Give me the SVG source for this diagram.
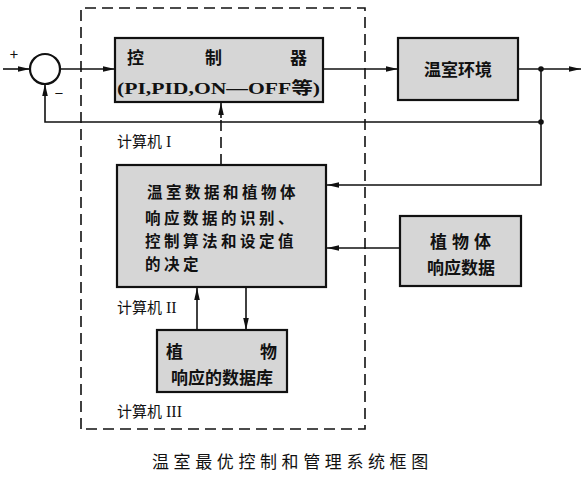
<svg xmlns="http://www.w3.org/2000/svg" width="587" height="482" viewBox="0 0 587 482">
<defs>
<marker id="ah" viewBox="0 0 12 8" refX="12" refY="4" markerWidth="12" markerHeight="8" markerUnits="userSpaceOnUse" orient="auto">
<path d="M0,1.2 L12,4 L0,6.8 Z" fill="#111"/>
</marker>
<style>
.box{fill:#d6d6d6;stroke:#111;stroke-width:2.2}
.ln{fill:none;stroke:#111;stroke-width:1.6}
.dash{fill:none;stroke:#111;stroke-width:1.6;stroke-dasharray:11 6}
.t{font-family:"Noto Sans CJK SC","Noto Sans",sans-serif;font-weight:700;font-size:17px;fill:#111}
.m{font-family:"Noto Sans CJK SC","Noto Sans",sans-serif;font-weight:700;font-size:15.5px;fill:#111;letter-spacing:3.5px}
.s{font-family:"Liberation Serif","Noto Sans CJK SC",serif;font-weight:700;font-size:17px;fill:#111}
.l{font-family:"Noto Sans CJK SC","Liberation Serif",sans-serif;font-size:15px;fill:#111}
.r{font-family:"Liberation Serif",serif;font-size:16px}
.cap{font-family:"Noto Sans CJK SC",sans-serif;font-size:17px;fill:#111;letter-spacing:4.6px}
</style>
</defs>
<rect width="587" height="482" fill="#fff"/>
<g id="computer-boundary">
<path class="dash" d="M81,429 V8 H365 V429 Z"/>
</g>
<g id="connectors">
<line class="ln" x1="3" y1="69" x2="30" y2="69" marker-end="url(#ah)"/>
<line class="ln" x1="60" y1="69" x2="115" y2="69" marker-end="url(#ah)"/>
<line class="ln" x1="323" y1="69" x2="398" y2="69" marker-end="url(#ah)"/>
<line class="ln" x1="518" y1="69" x2="581" y2="69" marker-end="url(#ah)"/>
<path class="ln" d="M541,69 V185 H327" marker-end="url(#ah)"/>
<path class="ln" d="M541,122 H45 V84" marker-end="url(#ah)"/>
<line class="ln" x1="400" y1="248" x2="327" y2="248" marker-end="url(#ah)"/>
<line class="dash" x1="221" y1="165" x2="221" y2="116" stroke-dasharray="8 5"/>
<line class="ln" x1="221" y1="118" x2="221" y2="103" marker-end="url(#ah)"/>
<line class="ln" x1="197" y1="330" x2="197" y2="288" marker-end="url(#ah)"/>
<line class="ln" x1="246" y1="288" x2="246" y2="330" marker-end="url(#ah)"/>
<circle cx="541" cy="69" r="2.8" fill="#111"/>
<circle cx="541" cy="122" r="2.8" fill="#111"/>
</g>
<g id="summing-junction">
<circle cx="45" cy="69" r="15" fill="#fff" stroke="#111" stroke-width="2.2"/>
<text x="14" y="60" class="l" text-anchor="middle">+</text>
<text x="59" y="99" class="l" text-anchor="middle">−</text>
</g>
<g id="controller">
<rect class="box" x="115" y="38" width="208" height="64"/>
<text x="127" y="64" class="t">控</text>
<text x="205" y="64" class="t">制</text>
<text x="290" y="64" class="t">器</text>
<text x="117" y="94" class="s" textLength="203" lengthAdjust="spacingAndGlyphs">(PI,PID,ON—OFF等)</text>
</g>
<g id="greenhouse-env">
<rect class="box" x="398" y="38" width="120" height="62"/>
<text x="458" y="76" class="t" text-anchor="middle">温室环境</text>
</g>
<g id="label-computer1">
<text x="117" y="147" class="l">计算机<tspan class="r" dx="4">I</tspan></text>
</g>
<g id="identification">
<rect class="box" x="117" y="165" width="209" height="122"/>
<text x="147" y="198" class="m">温室数据和植物体</text>
<text x="145" y="224" class="m">响应数据的识别、</text>
<text x="145" y="247" class="m">控制算法和设定值</text>
<text x="145" y="270" class="m">的决定</text>
</g>
<g id="plant-response">
<rect class="box" x="400" y="216" width="121" height="70"/>
<text x="463" y="248" class="t" text-anchor="middle" letter-spacing="5">植物体</text>
<text x="461" y="274" class="t" text-anchor="middle">响应数据</text>
</g>
<g id="label-computer2">
<text x="117" y="313" class="l">计算机<tspan class="r" dx="4">II</tspan></text>
</g>
<g id="database">
<rect class="box" x="157" y="330" width="130" height="62"/>
<text x="166" y="358" class="t">植</text>
<text x="260" y="358" class="t">物</text>
<text x="222" y="384" class="t" text-anchor="middle">响应的数据库</text>
</g>
<g id="label-computer3">
<text x="117" y="417" class="l">计算机<tspan class="r" dx="4">III</tspan></text>
</g>
<g id="caption">
<text x="152" y="468" class="cap">温室最优控制和管理系统框图</text>
</g>
</svg>
